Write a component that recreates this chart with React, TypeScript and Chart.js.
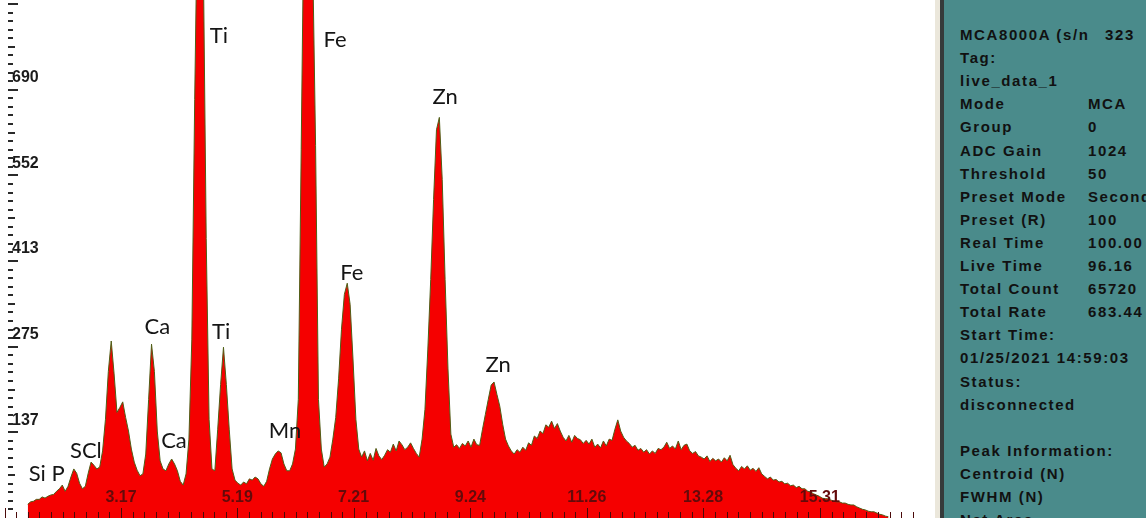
import React, { useEffect, useRef } from "react";
import { Chart, registerables } from "chart.js";

Chart.register(...registerables);

// ---- Spectrum data (counts per 0.05 keV channel, starting at 1.55 keV) ----
const energyStart = 1.55;
const energyStep = 0.05;
const counts: number[] = [
  22, 26, 27, 30, 30, 34, 32, 35, 37, 38,
  43, 47, 53, 43, 51, 66, 79, 72, 56, 47,
  51, 72, 90, 85, 79, 82, 108, 159, 236, 285,
  232, 170, 178, 187, 162, 140, 111, 90, 77, 68,
  71, 103, 191, 280, 236, 140, 92, 79, 76, 87,
  95, 87, 76, 59, 53, 71, 127, 288, 674, 1000,
  1050, 900, 450, 159, 79, 76, 143, 215, 275, 215,
  143, 79, 61, 56, 53, 58, 55, 63, 61, 66,
  63, 55, 51, 59, 79, 95, 103, 108, 105, 87,
  76, 76, 87, 111, 191, 593, 1000, 1150, 1100, 900,
  600, 191, 111, 82, 87, 98, 127, 162, 224, 304,
  360, 378, 344, 256, 159, 111, 98, 108, 92, 104,
  93, 112, 100, 94, 101, 110, 106, 119, 108, 124,
  118, 110, 114, 121, 112, 104, 98, 127, 175, 272,
  384, 513, 625, 645, 545, 384, 240, 135, 114, 118,
  112, 120, 116, 124, 114, 127, 118, 117, 143, 167,
  191, 214, 219, 199, 180, 151, 127, 116, 108, 103,
  110, 106, 114, 109, 121, 117, 132, 128, 140, 136,
  150, 146, 156, 144, 152, 140, 130, 124, 133, 122,
  133, 128, 126, 120, 125, 119, 127, 114, 119, 113,
  124, 116, 127, 125, 143, 158, 140, 130, 124, 120,
  114, 117, 109, 112, 106, 110, 103, 108, 104, 112,
  110, 114, 122, 112, 116, 111, 124, 110, 117, 119,
  108, 104, 107, 100, 98, 95, 100, 91, 96, 92,
  95, 90, 97, 92, 101, 86, 80, 76, 83, 79,
  84, 77, 80, 75, 81, 71, 67, 63, 66, 61,
  62, 58, 59, 55, 56, 52, 53, 49, 51, 47,
  47, 43, 42, 39, 37, 35, 32, 31, 31, 29,
  27, 26, 26, 24, 24, 22, 21, 21, 18, 16,
  14, 13, 11, 10, 10, 8, 6, 5, 3, 2,
];

// ---- Axis ticks ----
const xTickLabels = ["3.17", "5.19", "7.21", "9.24", "11.26", "13.28", "15.31"];
const yTickValues = [137.9, 275.8, 413.7, 551.6, 689.5];
const yTickLabels = ["137", "275", "413", "552", "690"];

// ---- Peak annotations (energy keV, counts) ----
const peakNames = ["Ti", "Fe", "Zn", "Fe", "Ca", "Ti", "Zn", "Mn", "Ca", "SCl", "Si P"];
const peakEnergy = [4.87, 6.89, 8.8, 7.18, 3.8, 4.91, 9.72, 6.02, 4.09, 2.56, 1.88];
const peakCount = [776, 770, 678, 395, 307, 300, 246, 141, 124, 108, 71];

// ---- Info panel ----
const panelLeft = ["MCA8000A (s/n", "Tag:", "live_data_1", "Mode", "Group", "ADC Gain", "Threshold",
  "Preset Mode", "Preset (R)", "Real Time", "Live Time", "Total Count", "Total Rate", "Start Time:",
  "01/25/2021 14:59:03", "Status:", "disconnected", "", "Peak Information:", "Centroid (N)", "FWHM (N)", "Net Area"];
const panelRight = ["323", "", "", "MCA", "0", "1024", "50", "Seconds", "100", "100.00", "96.16", "65720",
  "683.44", "", "", "", "", "", "", "", "", ""];

const X_MIN = 1.068;
const X_MAX = 17.31;
const Y_MAX = 834;

const axesPlugin = {
  id: "spectrumAxes",
  afterDatasetsDraw(chart: any) {
    const { ctx, chartArea } = chart;
    const xs = chart.scales.x;
    const ys = chart.scales.y;
    ctx.save();

    // Y minor/major ticks
    const yStep = (yTickValues[1] - yTickValues[0]) / 10;
    ctx.fillStyle = "#2a2a2a";
    for (let k = 1; k * yStep < Y_MAX; k++) {
      const v = k * yStep;
      const py = Math.round(ys.getPixelForValue(v));
      let len = 5;
      if (k % 10 === 0) len = 10;
      else if (k % 5 === 0) len = 7;
      ctx.fillRect(8, py - 1, len, 2);
    }
    ctx.font = "bold 16px 'Liberation Sans', Arial, sans-serif";
    ctx.fillStyle = "#1b1b1b";
    ctx.textAlign = "left";
    ctx.textBaseline = "middle";
    yTickValues.forEach((v, i) => {
      const py = ys.getPixelForValue(v);
      ctx.fillText(yTickLabels[i], 12, py - 12);
    });

    // X ticks
    const xMajor = xTickLabels.map((s) => parseFloat(s));
    const xStep = (xMajor[xMajor.length - 1] - xMajor[0]) / (xMajor.length - 1) / 10;
    ctx.fillStyle = "#4a0a0a";
    for (let k = -12; k < 80; k++) {
      const e = xMajor[0] + k * xStep;
      if (e < X_MIN || e > 16.95) continue;
      const px = Math.round(xs.getPixelForValue(e));
      const len = k % 10 === 0 ? 10 : 6;
      ctx.fillRect(px, chartArea.bottom - len, 1, len);
    }
    ctx.font = "bold 16px 'Liberation Sans', Arial, sans-serif";
    ctx.fillStyle = "#640a0a";
    ctx.textAlign = "center";
    xMajor.forEach((e, i) => {
      ctx.fillText(xTickLabels[i], xs.getPixelForValue(e), chartArea.bottom - 20);
    });

    // Peak labels
    ctx.font = "22px Lato, 'Noto Sans', sans-serif";
    ctx.fillStyle = "#151515";
    ctx.textAlign = "center";
    peakNames.forEach((name, i) => {
      ctx.fillText(name, xs.getPixelForValue(peakEnergy[i]), ys.getPixelForValue(peakCount[i]));
    });
    ctx.restore();
  },
};

export default function App() {
  const ref = useRef<HTMLCanvasElement | null>(null);
  useEffect(() => {
    if (!ref.current) return;
    const points = counts.map((c, i) => ({ x: energyStart + i * energyStep, y: c }));
    const chart = new Chart(ref.current, {
      type: "line",
      data: {
        datasets: [
          {
            data: points,
            fill: "start",
            backgroundColor: "#f50000",
            borderColor: "#4f5e16",
            borderWidth: 1,
            pointRadius: 0,
            tension: 0,
          },
        ],
      },
      options: {
        animation: false,
        responsive: false,
        devicePixelRatio: 1,
        layout: { padding: 0 },
        plugins: { legend: { display: false }, tooltip: { enabled: false } },
        scales: {
          x: { type: "linear", min: X_MIN, max: X_MAX, display: false },
          y: { min: 0, max: Y_MAX, display: false },
        },
      },
      plugins: [axesPlugin],
    });
    return () => chart.destroy();
  }, []);

  const rowH = 23.1;
  return (
    <div style={{ position: "fixed", left: 0, top: 0, width: 1146, height: 518, background: "#fff", overflow: "hidden" }}>
      <canvas ref={ref} width={935} height={518} style={{ position: "absolute", left: 0, top: 0, width: 935, height: 518 }} />
      <div style={{ position: "absolute", left: 935, top: 0, width: 5, height: 518, background: "#ebe7db" }} />
      <div style={{ position: "absolute", left: 940, top: 0, width: 4, height: 518, background: "#363b3b" }} />
      <div
        style={{
          position: "absolute",
          left: 944,
          top: 0,
          width: 202,
          height: 518,
          background: "#4a8b8b",
          overflow: "hidden",
          fontFamily: "'Liberation Sans', Arial, sans-serif",
          fontWeight: "bold",
          fontSize: 15,
          letterSpacing: "1.6px",
          color: "#111",
        }}
      >
        {panelLeft.map((t, i) => (
          <div key={"l" + i} style={{ position: "absolute", left: 16, top: 35 + rowH * i - 9, whiteSpace: "pre", lineHeight: "18px" }}>
            {t}
          </div>
        ))}
        {panelRight.map((t, i) =>
          t ? (
            <div
              key={"r" + i}
              style={{ position: "absolute", left: i === 0 ? 161 : 144, top: 35 + rowH * i - 9, whiteSpace: "pre", lineHeight: "18px" }}
            >
              {t}
            </div>
          ) : null
        )}
      </div>
    </div>
  );
}
